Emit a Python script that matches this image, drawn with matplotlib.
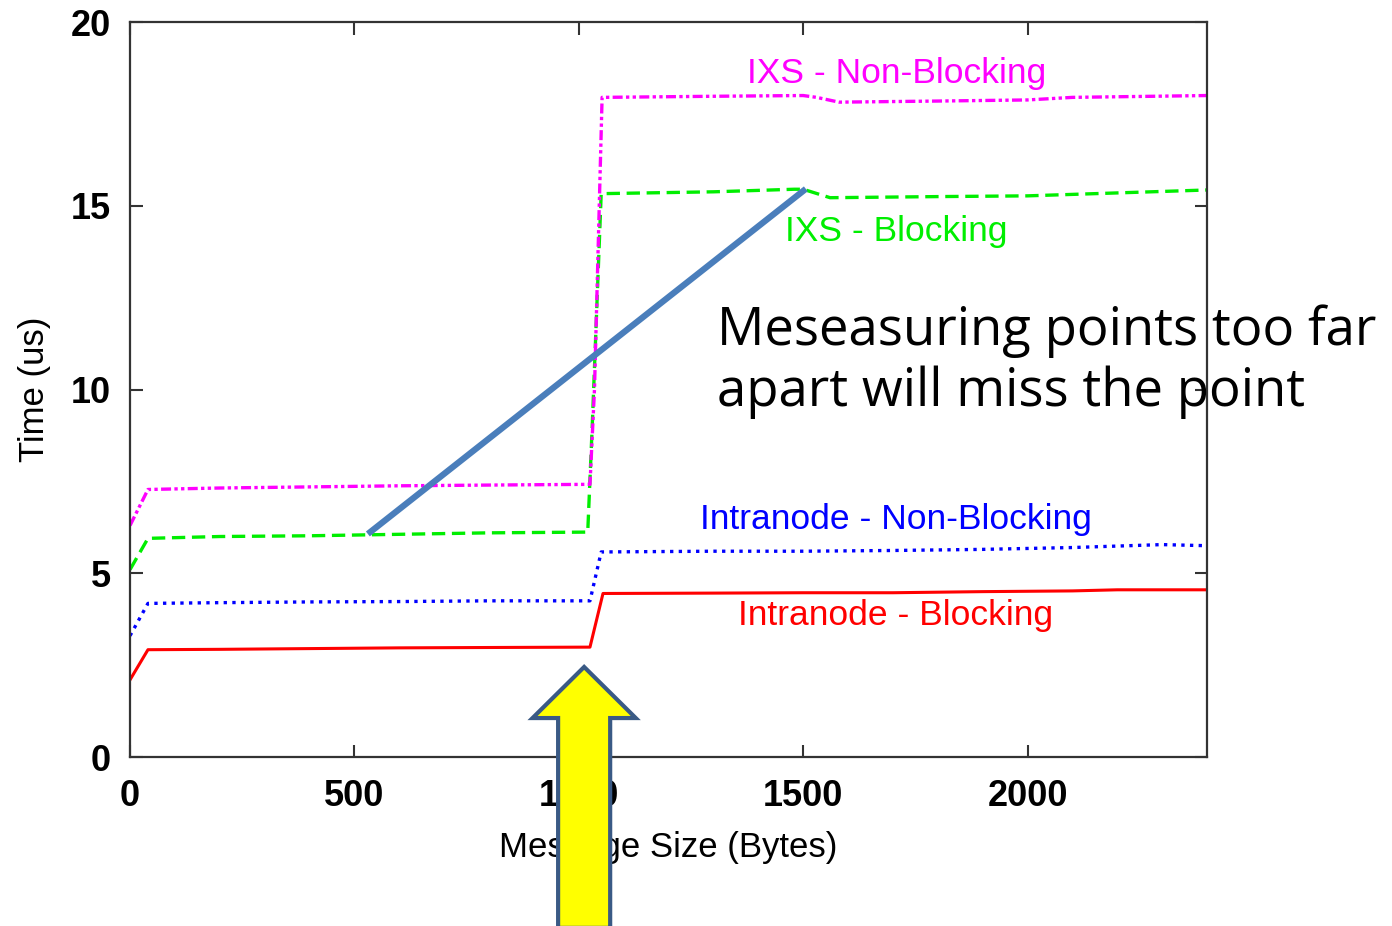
import matplotlib.pyplot as plt
from matplotlib.patches import Polygon

# message size (bytes) / time (us)
red_x = [0, 40, 200, 400, 600, 800, 1025, 1054, 1300, 1500, 1700, 1900, 2100, 2200, 2400]
red_y = [2.1, 2.92, 2.93, 2.95, 2.97, 2.98, 2.99, 4.45, 4.46, 4.47, 4.47, 4.50, 4.52, 4.55, 4.55]

blue_x = [0, 40, 200, 400, 600, 800, 1025, 1050, 1300, 1500, 1700, 1900, 2100, 2300, 2400]
blue_y = [3.3, 4.18, 4.2, 4.22, 4.23, 4.25, 4.25, 5.58, 5.6, 5.6, 5.62, 5.65, 5.7, 5.78, 5.75]

green_x = [0, 40, 200, 400, 600, 800, 1020, 1030, 1050, 1300, 1480, 1500, 1560, 1800, 2000, 2200, 2400]
green_y = [5.1, 5.95, 6.0, 6.02, 6.06, 6.1, 6.12, 9.0, 15.33, 15.38, 15.45, 15.45, 15.22, 15.25, 15.27, 15.35, 15.43]

mag_x = [0, 40, 200, 400, 600, 800, 1025, 1035, 1052, 1300, 1500, 1530, 1580, 1800, 2000, 2100, 2400]
mag_y = [6.3, 7.28, 7.32, 7.35, 7.38, 7.4, 7.42, 10.0, 17.95, 17.98, 18.0, 17.95, 17.82, 17.85, 17.88, 17.95, 18.0]

labels = ["IXS - Non-Blocking", "IXS - Blocking", "Intranode - Non-Blocking", "Intranode - Blocking"]
label_x = [1709, 1707, 1707, 1707]
label_y = [18.6, 14.3, 6.45, 3.86]
label_colors = ["#ff00ff", "#00ee00", "#0000ff", "#ff0000"]

# the straight line joining two far apart measurements
miss_x = [530, 1506]
miss_y = [6.07, 15.46]

xticks = [0, 500, 1000, 1500, 2000]
yticks = [0, 5, 10, 15, 20]

plt.rcParams['font.family'] = ['Liberation Sans', 'DejaVu Sans']

fig = plt.figure(figsize=(13.92, 9.26), dpi=100)
ax = fig.add_axes([0.0934, 0.1825, 0.7737, 0.7937])

ax.plot(red_x, red_y, color="#ff0000", lw=2.2, ls="-")
ax.plot(blue_x, blue_y, color="#0000ff", lw=2.4, ls=(0, (1, 1.6)))
ax.plot(green_x, green_y, color="#00ee00", lw=2.4, ls=(0, (4, 2)))
ax.plot(mag_x, mag_y, color="#ff00ff", lw=2.4, ls=(0, (3, 1, 1, 1, 1, 1)))

for t, x, y, c in zip(labels, label_x, label_y, label_colors):
    ax.text(x, y, t, color=c, ha="center", va="center", fontsize=25.5)

ax.plot(miss_x, miss_y, color="#4a7ebb", lw=4.5, solid_capstyle="butt", zorder=5)

ax.set_xlim(0, 2400)
ax.set_ylim(0, 20)
ax.set_xticks(xticks)
ax.set_yticks(yticks)
ax.tick_params(direction="in", length=9, width=1.5, labelsize=26, pad=16,
               top=True, right=True, colors="#333333", labelcolor="black")
ax.tick_params(axis="y", pad=14)
for lab in ax.get_xticklabels() + ax.get_yticklabels():
    lab.set_fontweight("bold")
for s in ax.spines.values():
    s.set_linewidth(1.6)
    s.set_color("#333333")
ax.set_xlabel("Message Size (Bytes)", fontsize=25, labelpad=12)
ax.set_ylabel("Time (us)", fontsize=25, labelpad=14)

fig.text(0.515, 0.609, "Meseasuring points too far\napart will miss the point",
         fontsize=38, family=['Open Sans', 'DejaVu Sans'], va="center", ha="left",
         linespacing=1.18, zorder=6)

# yellow arrow pointing at the step
tip_x, tip_y = 1012, 2.45
head_y, head_w, shaft_w, tail_y = 1.06, 115, 58, -4.65
arrow = Polygon([(tip_x, tip_y), (tip_x + head_w, head_y), (tip_x + shaft_w, head_y),
                 (tip_x + shaft_w, tail_y), (tip_x - shaft_w, tail_y),
                 (tip_x - shaft_w, head_y), (tip_x - head_w, head_y)],
                closed=True, facecolor="#ffff00", edgecolor="#3a5a85", lw=3,
                clip_on=False, zorder=10)
ax.add_patch(arrow)

plt.savefig("out.png")
plt.close()
